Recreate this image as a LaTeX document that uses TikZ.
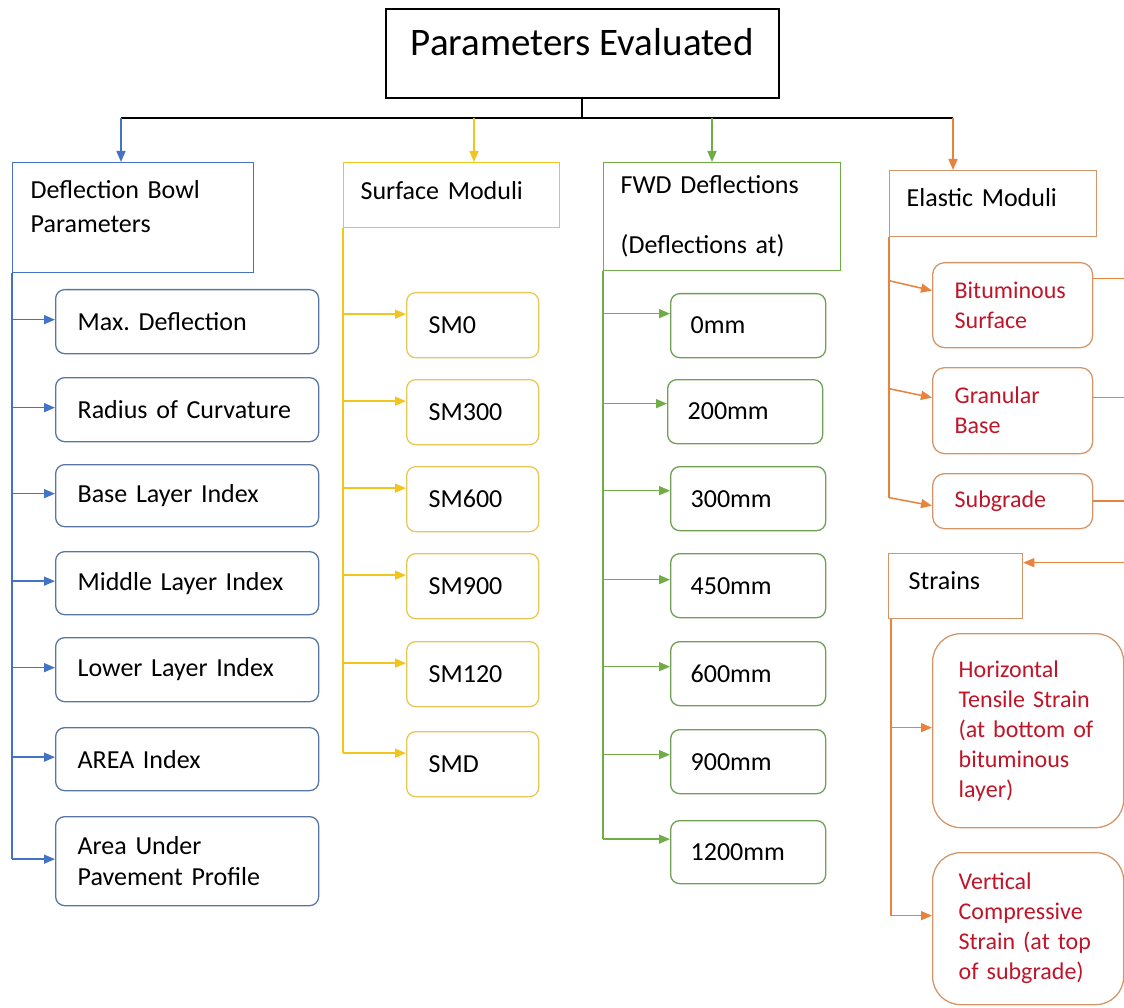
\documentclass[tikz,border=0pt]{standalone}
\usepackage{fontspec}
\setmainfont{Carlito}
\usetikzlibrary{arrows.meta,calc}
\definecolor{cblue}{RGB}{68,114,196}
\definecolor{cbluel}{RGB}{88,118,165}
\definecolor{cyellow}{RGB}{242,196,30}
\definecolor{cyellowl}{RGB}{232,198,90}
\definecolor{cgreen}{RGB}{112,173,71}
\definecolor{cgreenl}{RGB}{112,160,85}
\definecolor{corange}{RGB}{232,130,60}
\definecolor{corangel}{RGB}{212,150,105}
\definecolor{cred}{RGB}{192,20,40}
\frenchspacing
\begin{document}
\begin{tikzpicture}[x=1pt,y=-1pt,
  every node/.style={inner ysep=0pt},
  hdr/.style={draw, line width=1.3pt, rectangle, anchor=north west, align=left,
    font=\fontsize{26}{34}\selectfont, text=black},
  leaf/.style={draw, line width=1.3pt, rounded corners=9pt, anchor=north west,
    align=left, font=\fontsize{26}{31}\selectfont, text=black},
  rleaf/.style={leaf, font=\fontsize{24}{30}\selectfont, text=cred,
    execute at begin node={\hyphenpenalty=10000\relax}},
  conn/.style={line width=1.5pt},
  arr/.style={conn, -{Triangle[length=11pt,width=9pt]}}]
\useasboundingbox (0,0) rectangle (1124,1008);
\clip (0,0) rectangle (1124,1008);

% title
\node[draw, line width=1.6pt, anchor=north west, minimum width=393pt, inner ysep=23pt,
  text height=24pt, text depth=19pt, font=\fontsize{39}{44}\selectfont] (top) at (385,8)
  {Parameters Evaluated};

% category headers
\node[hdr, draw=cblue, minimum width=241pt, minimum height=110pt, inner xsep=18pt,
  text width=205pt, text depth=56pt] (b0) at (12,162) {Deflection Bowl\\Parameters};
\node[hdr, draw=cyellow, minimum width=216pt, minimum height=65pt, inner xsep=17pt,
  text width=182pt, text depth=10pt] (y0) at (343,162) {Surface Moduli};
\node[hdr, draw=cgreen, minimum width=237pt, minimum height=108pt, inner xsep=17pt,
  text width=203pt, font=\fontsize{26}{60}\selectfont] (g0) at (603,162)
  {FWD Deflections\\(Deflections at)};
\node[hdr, draw=corangel, minimum width=207pt, minimum height=66pt, inner xsep=17pt,
  text width=173pt, text depth=12pt] (o0) at (889,170) {Elastic Moduli};

% bus from the title to the four headers
\coordinate (dB) at (121,118);
\coordinate (dY) at (474,118);
\coordinate (dG) at (712,118);
\coordinate (dO) at (953,118);
\draw[conn, line width=2pt, black] (top.south) -- (top.south |- dB);
\draw[conn, line width=2.2pt, black] (dB) -- (dO);
\draw[arr, cblue] (dB) -- (dB |- b0.north);
\draw[arr, cyellow] (dY) -- (dY |- y0.north);
\draw[arr, cgreen] (dG) -- (dG |- g0.north);
\draw[arr, corange] (dO) -- (dO |- o0.north);

% deflection bowl parameters
\begin{scope}[every node/.append style={leaf, draw=cbluel, minimum width=263pt,
    inner xsep=22pt, text width=219pt}]
\node[minimum height=64pt] (b1) at (55,289) {Max. Deflection};
\node[minimum height=64pt] (b2) at (55,377) {Radius of Curvature};
\node[minimum height=62pt] (b3) at (55,464) {Base Layer Index};
\node[minimum height=63pt] (b4) at (55,551) {Middle Layer Index};
\node[minimum height=64pt] (b5) at (55,637) {Lower Layer Index};
\node[minimum height=63pt] (b6) at (55,727) {AREA Index};
\node[minimum height=89pt] (b7) at (55,816) {Area Under\\Pavement Profile};
\end{scope}
\draw[conn, cblue] (b0.south west) -- ([yshift=2pt]b7.west -| b0.south west);
\foreach \n in {b1,b2,b3,b4,b5,b6,b7}
  \draw[arr, cblue] ([yshift=2pt]\n.west -| b0.south west) -- ([yshift=2pt]\n.west);

% surface moduli
\begin{scope}[every node/.append style={leaf, draw=cyellowl, minimum width=132pt,
    minimum height=65pt, inner xsep=22pt, text width=88pt}]
\node (y1) at (406,292) {SM0};
\node (y2) at (406,379) {SM300};
\node (y3) at (406,466) {SM600};
\node (y4) at (406,553) {SM900};
\node (y5) at (406,641) {SM120};
\node (y6) at (406,731) {SMD};
\end{scope}
\draw[conn, cyellow] (y0.south west) -- ([yshift=11pt]y6.west -| y0.south west);
\foreach \n in {y1,y2,y3,y4,y5,y6}
  \draw[arr, cyellow] ([yshift=11pt]\n.west -| y0.south west) -- ([yshift=11pt]\n.west);

% FWD deflections
\begin{scope}[every node/.append style={leaf, draw=cgreenl, minimum width=155pt,
    minimum height=64pt, inner xsep=20pt, text width=115pt}]
\node (g1) at (670,293) {0mm};
\node (g2) at (667,379) {200mm};
\node (g3) at (670,466) {300mm};
\node (g4) at (670,553) {450mm};
\node (g5) at (670,641) {600mm};
\node (g6) at (670,729) {900mm};
\node[minimum height=63pt] (g7) at (670,820) {1200mm};
\end{scope}
\draw[conn, cgreen] (g0.south west) -- ([yshift=13pt]g7.west -| g0.south west);
\foreach \n/\s in {g1/12,g2/8,g3/8,g4/6,g5/7,g6/7,g7/13}
  \draw[arr, cgreen] ([yshift=\s pt]\n.west -| g0.south west) -- ([yshift=\s pt]\n.west);

% elastic moduli
\begin{scope}[every node/.append style={rleaf, draw=corangel, minimum width=160pt,
    inner xsep=22pt, text width=116pt, rounded corners=12pt}]
\node[minimum height=85pt] (o1) at (932,262) {Bituminous\\Surface};
\node[minimum height=86pt] (o2) at (932,367) {Granular\\Base};
\node[minimum height=55pt] (o3) at (932,473) {Subgrade};
\end{scope}
\draw[conn, corange] (o0.south west) -- ([yshift=3.5pt]o3.west -| o0.south west);
\draw[arr, corange] ([yshift=24.5pt]o1.west -| o0.south west) -- ([yshift=14.5pt]o1.west);
\draw[arr, corange] ([yshift=22pt]o2.west -| o0.south west) -- ([yshift=13pt]o2.west);
\draw[arr, corange] ([yshift=3.5pt]o3.west -| o0.south west) -- ([yshift=-4.5pt]o3.west);

% links from the moduli back to the strains
\coordinate (edge) at (1124,0);
\node[hdr, draw=corangel, minimum width=134pt, minimum height=65pt, inner xsep=20pt,
  text width=94pt, text depth=12pt] (s0) at (888,553) {Strains};
\draw[conn, corange] ([yshift=26.5pt]o1.east) -- ([yshift=26.5pt]o1.east -| edge);
\draw[conn, corange] ([yshift=13pt]o2.east) -- ([yshift=13pt]o2.east -| edge);
\draw[conn, corange] (o3.east) -- (o3.east -| edge);
\draw[arr, corange] ([yshift=23.5pt]s0.east -| edge) -- ([yshift=23.5pt]s0.east);

% strains
\begin{scope}[every node/.append style={rleaf, draw=corangel, minimum width=191pt,
    inner xsep=26pt, text width=139pt, rounded corners=28pt}]
\node[minimum height=194pt] (h1) at (932,633)
  {Horizontal\\Tensile Strain\\(at bottom of\\bituminous\\layer)};
\node[minimum height=152pt] (v1) at (932,852)
  {Vertical\\Compressive\\Strain (at top\\of subgrade)};
\end{scope}
\coordinate (st) at ([xshift=3pt]s0.south west);
\draw[conn, corange] (st) -- ([yshift=13pt]v1.west -| st);
\draw[arr, corange] ([yshift=3pt]h1.west -| st) -- ([yshift=3pt]h1.west);
\draw[arr, corange] ([yshift=13pt]v1.west -| st) -- ([yshift=13pt]v1.west);
\end{tikzpicture}
\end{document}
